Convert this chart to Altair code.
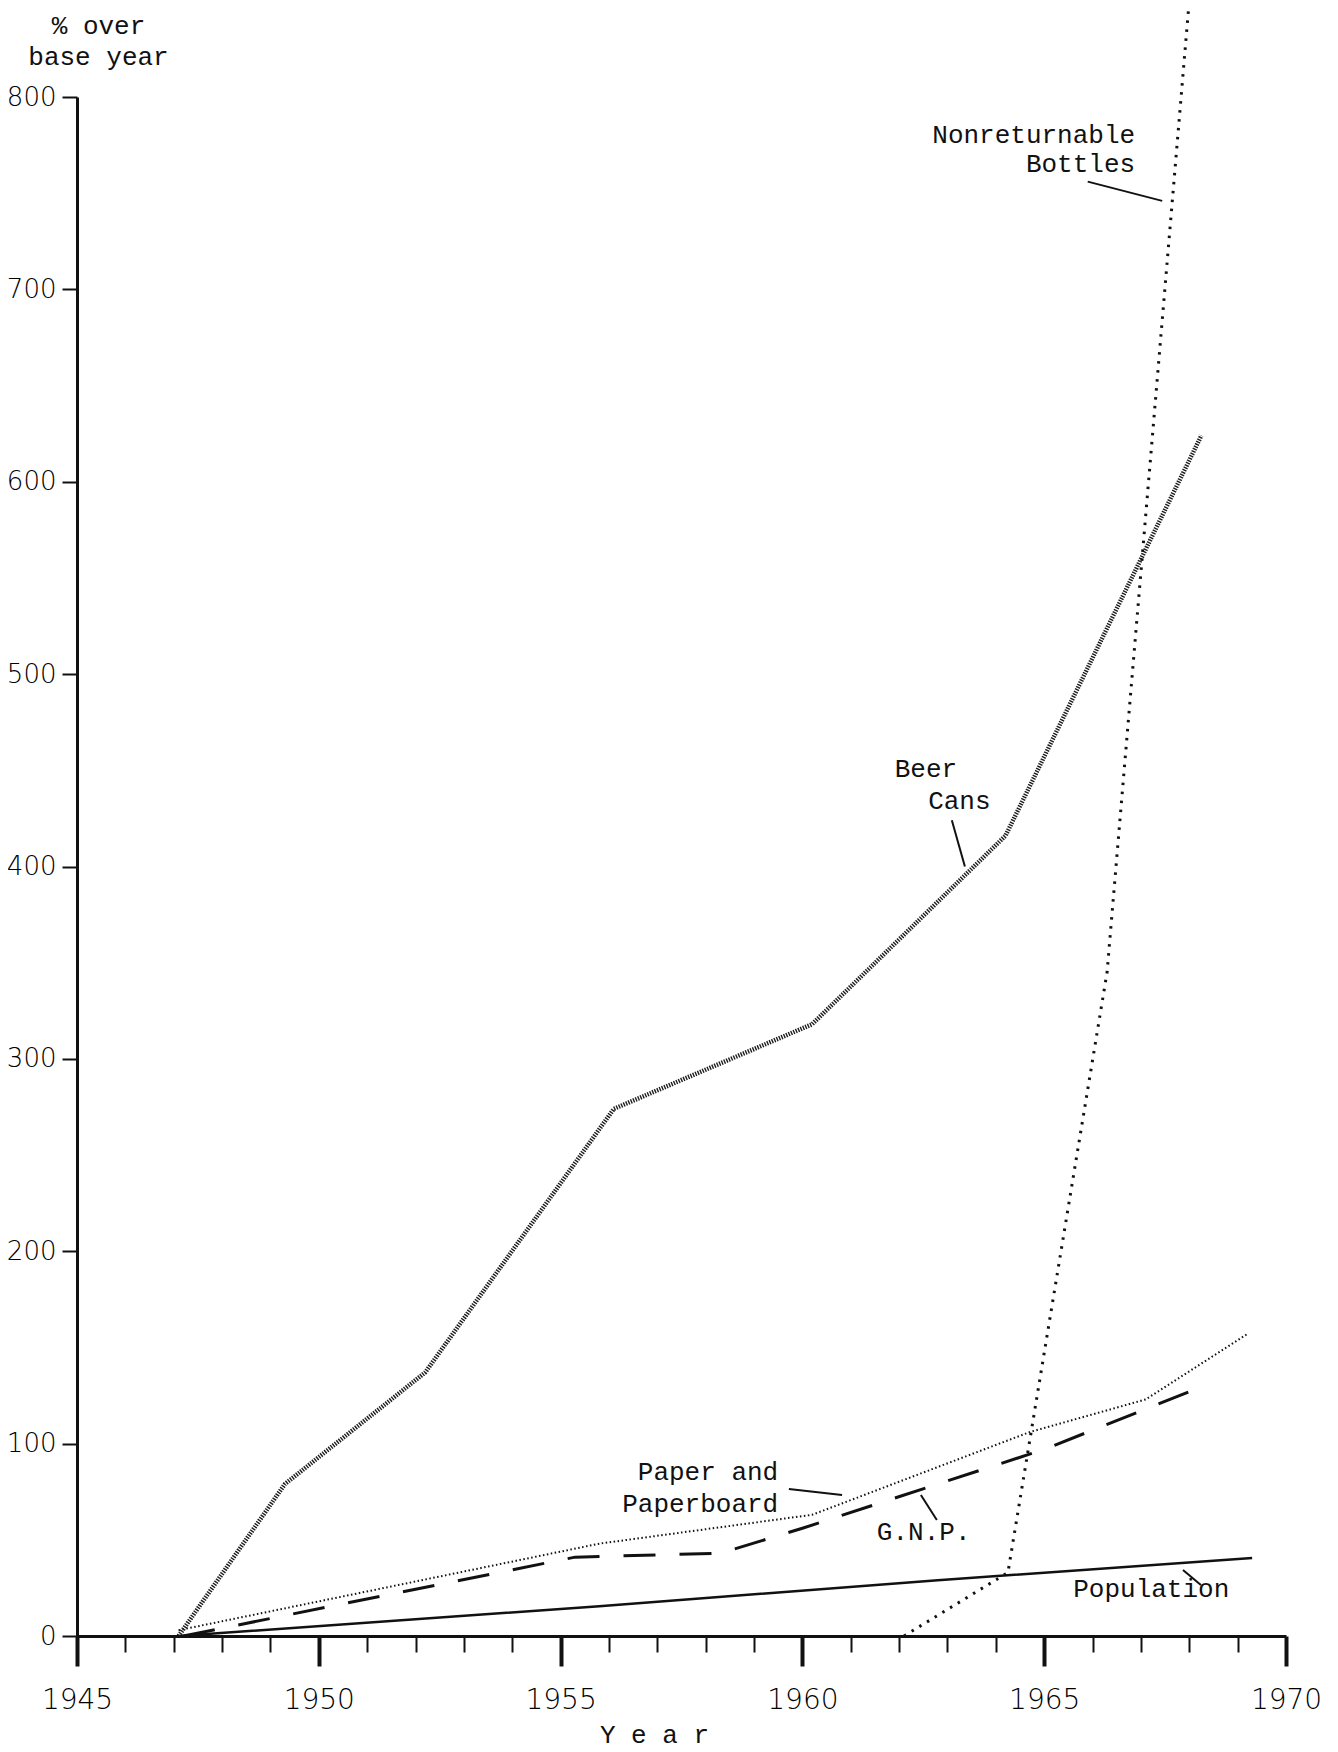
import altair as alt
import pandas as pd

# ---- data ----
pop_years = [1947.1, 1955.8, 1962.8, 1969.3]
pop_vals = [0, 15.5, 29, 40.5]

gnp_years = [1947.2, 1955.3, 1958.3, 1960.0, 1962.8, 1965.0, 1968.2]
gnp_vals = [0, 41, 43, 56, 79, 97, 129]

paper_years = [1947.1, 1955.8, 1960.2, 1964.7, 1967.1, 1969.2]
paper_vals = [3, 48, 63, 106, 123, 157]

beer_years = [1947.1, 1949.3, 1952.2, 1956.1, 1960.2, 1964.2, 1968.25]
beer_vals = [0, 79, 137, 274, 318, 416, 624]

bottle_years = [1962.1, 1964.25, 1966.3, 1968.1]
bottle_vals = [0, 33, 345, 880]

# annotation labels
lab_right_text = ["Nonreturnable", "Bottles", "Paper and", "Paperboard"]
lab_right_x = [1966.88, 1966.88, 1959.5, 1959.5]
lab_right_y = [776, 761, 81, 64.5]

lab_left_text = ["Beer", "Cans", "G.N.P.", "Population"]
lab_left_x = [1961.91, 1962.6, 1961.54, 1965.6]
lab_left_y = [446.5, 430, 50, 20.3]

lead_x = [1965.9, 1963.09, 1959.72, 1962.45, 1967.87]
lead_y = [756, 424, 76.4, 73.3, 34.3]
lead_x2 = [1967.44, 1963.36, 1960.82, 1962.78, 1968.24]
lead_y2 = [746, 400, 73.3, 60.3, 26.5]

x_ticks = list(range(1945, 1971))
y_ticks = list(range(0, 801, 100))

MONO = "Liberation Mono"
SANS = "DejaVu Sans"
INK = "#111111"


def frame(years, vals):
    return pd.DataFrame({"year": years, "value": vals})


x_scale = alt.Scale(domain=[1945, 1970], nice=False, zero=False)
y_scale = alt.Scale(domain=[0, 800], nice=False)

x_axis = alt.Axis(
    values=x_ticks,
    format="d",
    labelExpr="datum.value % 5 === 0 ? datum.label : ''",
    tickSize={"condition": {"test": "datum.value % 5 === 0", "value": 30}, "value": 16},
    tickWidth={"condition": {"test": "datum.value % 5 === 0", "value": 4}, "value": 2},
    tickColor=INK,
    domainColor=INK,
    domainWidth=3,
    labelFont=SANS,
    labelFontSize=28,
    labelFontWeight=200,
    labelColor="#000000",
    labelPadding=20,
    labelBaseline="top",
    labelFlush=False,
    grid=False,
    title="Y e a r",
    titleFont=MONO,
    titleFontSize=26,
    titleFontWeight="normal",
    titleColor=INK,
    titleX=577,
    titleY=106,
    titleAlign="center",
    titleBaseline="alphabetic",
    titleAnchor="start",
)

y_axis = alt.Axis(
    values=y_ticks,
    format="d",
    tickSize=15,
    tickWidth=2,
    tickColor=INK,
    domainColor=INK,
    domainWidth=3,
    labelFont=SANS,
    labelFontSize=26,
    labelFontWeight=200,
    labelColor="#000000",
    labelPadding=6,
    labelFlush=False,
    grid=False,
    title=["% over", "base year"],
    titleFont=MONO,
    titleFontSize=26,
    titleFontWeight="normal",
    titleColor=INK,
    titleAngle=0,
    titleX=21,
    titleY=-64,
    titleAlign="center",
    titleBaseline="alphabetic",
    titleLineHeight=31,
    titleAnchor="start",
)

X = alt.X("year:Q", scale=x_scale, axis=x_axis)
Y = alt.Y("value:Q", scale=y_scale, axis=y_axis)
Xn = alt.X("year:Q", scale=x_scale)
Yn = alt.Y("value:Q", scale=y_scale)

beer = alt.Chart(frame(beer_years, beer_vals)).mark_line(
    color="#1e1e1e", strokeWidth=4.5, strokeDash=[1.4, 1.2]
).encode(x=X, y=Y)

paper = alt.Chart(frame(paper_years, paper_vals)).mark_line(
    color=INK, strokeWidth=2, strokeDash=[1.5, 2.5]
).encode(x=Xn, y=Yn)

gnp = alt.Chart(frame(gnp_years, gnp_vals)).mark_line(
    color=INK, strokeWidth=3, strokeDash=[32, 24]
).encode(x=Xn, y=Yn)

pop = alt.Chart(frame(pop_years, pop_vals)).mark_line(
    color=INK, strokeWidth=2.5
).encode(x=Xn, y=Yn)

bottles = alt.Chart(frame(bottle_years, bottle_vals)).mark_line(
    color=INK, strokeWidth=3, strokeDash=[2.5, 6.5], clip=False
).encode(x=Xn, y=Yn)

leaders = alt.Chart(
    pd.DataFrame({"year": lead_x, "value": lead_y, "year2": lead_x2, "value2": lead_y2})
).mark_rule(color=INK, strokeWidth=2).encode(
    x=Xn, y=Yn, x2="year2:Q", y2="value2:Q"
)

labels_right = alt.Chart(
    pd.DataFrame({"year": lab_right_x, "value": lab_right_y, "label": lab_right_text})
).mark_text(
    font=MONO, fontSize=26, color=INK, align="right", baseline="alphabetic"
).encode(x=Xn, y=Yn, text="label:N")

labels_left = alt.Chart(
    pd.DataFrame({"year": lab_left_x, "value": lab_left_y, "label": lab_left_text})
).mark_text(
    font=MONO, fontSize=26, color=INK, align="left", baseline="alphabetic"
).encode(x=Xn, y=Yn, text="label:N")

chart = alt.layer(
    beer, paper, gnp, pop, bottles, leaders, labels_right, labels_left
).properties(
    width=1209,
    height=1539,
    autosize=alt.AutoSizeParams(type="none"),
    padding={"left": 69, "top": 89, "right": 44, "bottom": 114},
    background="white",
).configure_view(stroke=None)

chart.save("out.html", embed_options={"renderer": "svg", "actions": False})
